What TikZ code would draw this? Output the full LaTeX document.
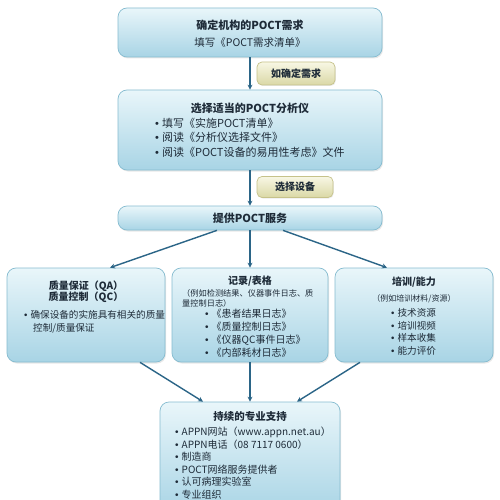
\documentclass[tikz,border=0pt]{standalone}
\usepackage{fontspec}
\setmainfont{Noto Sans CJK SC}
\newfontfamily\bulfont{Liberation Sans}
\usetikzlibrary{arrows.meta,shadows}
\definecolor{boxtop}{HTML}{E9F6FA}
\definecolor{boxbot}{HTML}{A8D4E5}
\definecolor{boxline}{HTML}{86BCD0}
\definecolor{lbltop}{HTML}{F8F7E4}
\definecolor{lblbot}{HTML}{DAD8A6}
\definecolor{lblline}{HTML}{C6C28A}
\definecolor{arrowcol}{HTML}{2B6587}
\definecolor{txt}{HTML}{1E2B38}
\newcommand{\bl}{{\bulfont\textbullet}\hspace{3pt}}
\tikzset{
  bx/.style={rounded corners=9pt, draw=boxline, line width=0.7pt,
    top color=boxtop, bottom color=boxbot, inner sep=0pt,
    drop shadow={opacity=0.18, shadow xshift=1pt, shadow yshift=-1.5pt}},
  lbl/.style={rounded corners=5pt, draw=lblline, line width=0.7pt,
    top color=lbltop, bottom color=lblbot, inner sep=0pt, text=txt,
    font=\fontsize{10}{12}\selectfont\bfseries,
    drop shadow={opacity=0.15, shadow xshift=0.8pt, shadow yshift=-1pt}},
  tt/.style={inner sep=0pt, text=txt},
  li/.style={inner sep=0pt, text=txt, anchor=west},
  arr/.style={draw=arrowcol, line width=1.4pt,
    -{Stealth[length=5pt,width=5pt]}},
}
\begin{document}
\begin{tikzpicture}[x=1pt,y=-1pt]
\useasboundingbox (0,0) rectangle (500,500);
\fill[white] (0,0) rectangle (500,500);
\clip (0,0) rectangle (500,500);

% boxes
\node[bx, minimum width=264pt, minimum height=49pt] (b1) at (250,32.5) {};
\node[bx, minimum width=264pt, minimum height=80pt] (b2) at (250,130) {};
\node[bx, minimum width=264pt, minimum height=24pt] (b3) at (250,218) {};
\node[bx, minimum width=158pt, minimum height=94pt] (qa) at (86,315) {};
\node[bx, minimum width=156pt, minimum height=94pt] (rec) at (250,315) {};
\node[bx, minimum width=158pt, minimum height=94pt] (tr) at (414,315) {};
\node[bx, minimum width=180pt, minimum height=112pt] (sup) at (250,458) {};

% labels
\node[lbl, minimum width=78pt, minimum height=23pt] (l1) at (296,73.5) {如确定需求};
\node[lbl, minimum width=76pt, minimum height=21pt] (l2) at (295,187) {选择设备};

% box 1
\node[tt, font=\fontsize{11}{13}\selectfont\bfseries] (t1) at (250,25) {确定机构的POCT需求};
\node[tt, font=\fontsize{10.5}{12}\selectfont] (s1) at (250,43) {填写《POCT需求清单》};

% box 2
\node[tt, font=\fontsize{11}{13}\selectfont\bfseries] (t2) at (250,108) {选择适当的POCT分析仪};
\begin{scope}[every node/.style={li, font=\fontsize{11}{13}\selectfont}]
\node (b2a) at (155,123) {\bl 填写《实施POCT清单》};
\node (b2b) at (155,137.5) {\bl 阅读《分析仪选择文件》};
\node (b2c) at (155,152) {\bl 阅读《POCT设备的易用性考虑》文件};
\end{scope}

% box 3
\node[tt, font=\fontsize{11}{13}\selectfont\bfseries] (t3) at (250,218) {提供POCT服务};

% QA box
\node[tt, font=\fontsize{10}{12}\selectfont\bfseries] (tqa1) at (86,286) {质量保证（QA）};
\node[tt, font=\fontsize{10}{12}\selectfont\bfseries] (tqa2) at (86,297.5) {质量控制（QC）};
\begin{scope}[every node/.style={li, font=\fontsize{9.6}{11}\selectfont}]
\node (qa1) at (24,315) {\bl 确保设备的实施具有相关的质量};
\node (qa2) at (33,328) {控制/质量保证};
\end{scope}

% records box
\node[tt, font=\fontsize{10}{12}\selectfont\bfseries] (trec) at (250,281) {记录/表格};
\begin{scope}[every node/.style={li, font=\fontsize{8.2}{10}\selectfont}]
\node (rs1) at (182,293) {（例如检测结果、仪器事件日志、质};
\node (rs2) at (182,303) {量控制日志）};
\end{scope}
\begin{scope}[every node/.style={li, font=\fontsize{10}{12}\selectfont}]
\node (r1) at (205,314) {\bl 《患者结果日志》};
\node (r2) at (205,327) {\bl 《质量控制日志》};
\node (r3) at (205,340) {\bl 《仪器QC事件日志》};
\node (r4) at (205,352.5) {\bl 《内部耗材日志》};
\end{scope}

% training box
\node[tt, font=\fontsize{10}{12}\selectfont\bfseries] (ttr) at (414,282) {培训/能力};
\node[tt, font=\fontsize{8}{10}\selectfont] (trs) at (414,299) {（例如培训材料/资源）};
\begin{scope}[every node/.style={li, font=\fontsize{9.6}{11}\selectfont}]
\node (tr1) at (391,313) {\bl 技术资源};
\node (tr2) at (391,325.5) {\bl 培训视频};
\node (tr3) at (391,338) {\bl 样本收集};
\node (tr4) at (391,350.5) {\bl 能力评价};
\end{scope}

% support box
\node[tt, font=\fontsize{10.5}{12}\selectfont\bfseries] (tsup) at (250,417) {持续的专业支持};
\begin{scope}[every node/.style={li, font=\fontsize{10}{12}\selectfont}]
\node (s1a) at (175,432) {\bl APPN网站（www.appn.net.au）};
\node (s2a) at (175,444.5) {\bl APPN电话（08 7117 0600）};
\node (s3a) at (175,457) {\bl 制造商};
\node (s4a) at (175,469.5) {\bl POCT网络服务提供者};
\node (s5a) at (175,482) {\bl 认可病理实验室};
\node (s6a) at (175,494.5) {\bl 专业组织};
\end{scope}

% connectors
\draw[arr] (b1.south) -- (b2.north);
\draw[arr] (b2.south) -- (b3.north);
\draw[arr] ([xshift=-33pt]b3.south) -- ([xshift=24pt]qa.north);
\draw[arr] (b3.south) -- (rec.north);
\draw[arr] ([xshift=33pt]b3.south) -- ([xshift=-27pt]tr.north);
\draw[arr] ([xshift=54pt]qa.south) -- ([xshift=-47pt]sup.north);
\draw[arr] (rec.south) -- (sup.north);
\draw[arr] ([xshift=-54pt]tr.south) -- ([xshift=47pt]sup.north);
\end{tikzpicture}
\end{document}
